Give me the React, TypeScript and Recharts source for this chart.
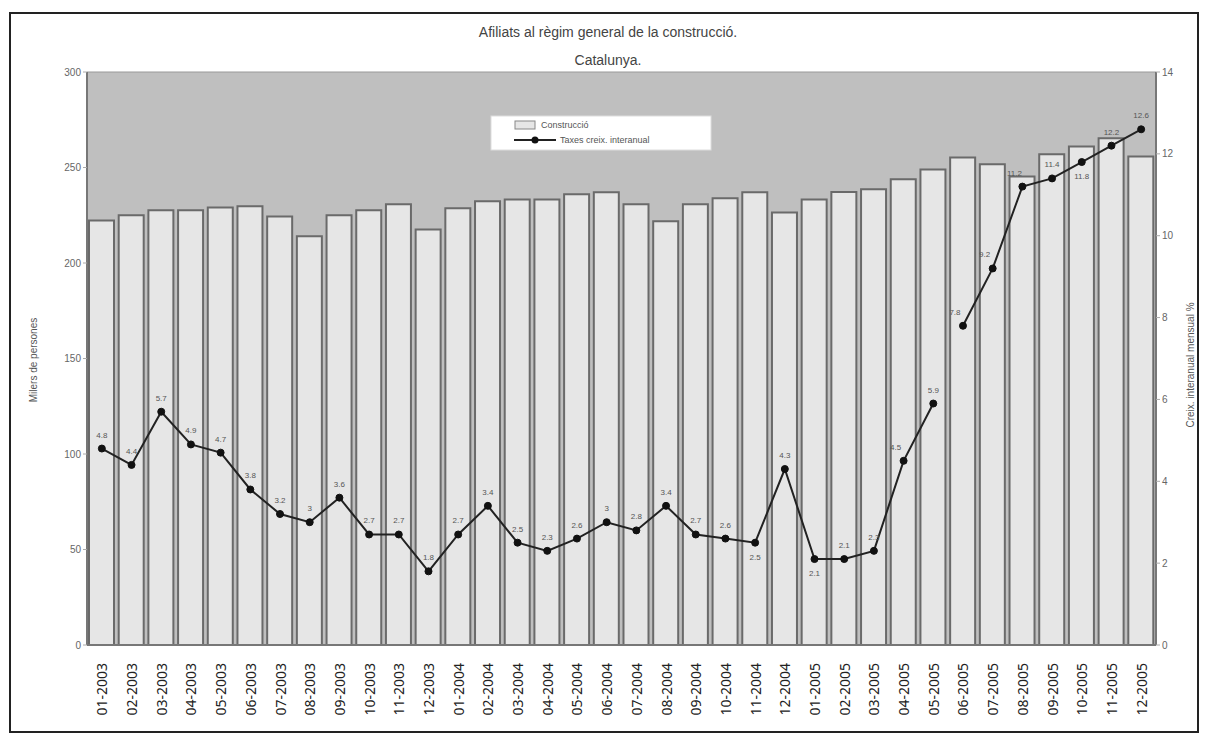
import React from 'react';
import {
  ComposedChart,
  Bar,
  Line,
  XAxis,
  YAxis,
  CartesianGrid,
  ReferenceLine,
} from 'recharts';

const mesos = [
  '01-2003', '02-2003', '03-2003', '04-2003', '05-2003', '06-2003',
  '07-2003', '08-2003', '09-2003', '10-2003', '11-2003', '12-2003',
  '01-2004', '02-2004', '03-2004', '04-2004', '05-2004', '06-2004',
  '07-2004', '08-2004', '09-2004', '10-2004', '11-2004', '12-2004',
  '01-2005', '02-2005', '03-2005', '04-2005', '05-2005', '06-2005',
  '07-2005', '08-2005', '09-2005', '10-2005', '11-2005', '12-2005',
];

const construccio = [
  222.3, 225, 227.6, 227.6, 229, 229.7,
  224.4, 214, 225, 227.6, 230.7, 217.6,
  228.6, 232.3, 233.3, 233.3, 236, 237,
  230.7, 221.8, 230.7, 233.9, 237, 226.5,
  233.3, 237.2, 238.6, 243.8, 249, 255.2,
  251.7, 245.3, 256.9, 261, 265.3, 255.7,
];

const taxes = [
  4.8, 4.4, 5.7, 4.9, 4.7, 3.8,
  3.2, 3, 3.6, 2.7, 2.7, 1.8,
  2.7, 3.4, 2.5, 2.3, 2.6, 3,
  2.8, 3.4, 2.7, 2.6, 2.5, 4.3,
  2.1, 2.1, 2.3, 4.5, 5.9, 7.8,
  9.2, 11.2, 11.4, 11.8, 12.2, 12.6,
];

// the line is interrupted between 05-2005 and 06-2005
const breakIndex = 29;

const leftTicks = [0, 50, 100, 150, 200, 250, 300];
const rightTicks = [0, 2, 4, 6, 8, 10, 12, 14];

const data = mesos.map((m, i) => ({
  mes: m,
  construccio: construccio[i],
  taxaA: i < breakIndex ? taxes[i] : null,
  taxaB: i >= breakIndex ? taxes[i] : null,
}));

const belowLabels = new Set([22, 24, 33]);
const leftShifted = new Set([27, 29, 30, 31]);

const FONT = '"Liberation Sans", Arial, sans-serif';

const renderLabel = (props: any) => {
  const { x, y, value, index } = props;
  if (value == null || x == null || y == null) return null;
  const below = belowLabels.has(index);
  const dx = leftShifted.has(index) ? -8 : 0;
  return (
    <text
      x={x + dx}
      y={below ? y + 17 : y - 11}
      textAnchor="middle"
      fontSize={8}
      fill="#555"
      fontFamily={FONT}
    >
      {String(value)}
    </text>
  );
};

const XTick = (props: any) => {
  const { x, y, payload } = props;
  return (
    <g transform={`translate(${x},${y})`}>
      <text
        transform="rotate(-90)"
        x={-10}
        y={0}
        textAnchor="end"
        dominantBaseline="central"
        fontSize={14}
        fill="#222"
        fontFamily='"Noto Sans", "Open Sans", sans-serif'
      >
        {payload.value}
      </text>
    </g>
  );
};

export default function App() {
  return (
    <div
      style={{
        position: 'absolute',
        left: 0,
        top: 0,
        width: 1207,
        height: 746,
        background: '#fff',
        overflow: 'hidden',
      }}
    >
      <div
        style={{
          position: 'absolute',
          left: 9,
          top: 12,
          width: 1186,
          height: 717,
          border: '2px solid #222',
        }}
      />
      <div style={{ position: 'absolute', left: 0, top: 0 }}>
        <ComposedChart
          width={1207}
          height={746}
          data={data}
          margin={{ top: 72, right: 0, bottom: 0, left: 0 }}
        >
          <CartesianGrid
            fill="#bfbfbf"
            stroke="none"
            horizontal={false}
            vertical={false}
          />
          <XAxis
            dataKey="mes"
            interval={0}
            height={101}
            tick={<XTick />}
            tickLine={false}
            axisLine={{ stroke: '#777', strokeWidth: 2 }}
          />
          <YAxis
            yAxisId="left"
            domain={[0, 300]}
            ticks={leftTicks}
            width={87}
            tickSize={4}
            tick={{ fontSize: 10, fill: '#666', fontFamily: FONT }}
            tickLine={{ stroke: '#aaa' }}
            axisLine={{ stroke: '#777', strokeWidth: 2 }}
          />
          <YAxis
            yAxisId="right"
            orientation="right"
            domain={[0, 14]}
            ticks={rightTicks}
            width={51}
            tickSize={4}
            tick={{ fontSize: 10, fill: '#666', fontFamily: FONT }}
            tickLine={{ stroke: '#aaa' }}
            axisLine={{ stroke: '#777', strokeWidth: 2 }}
          />
          <ReferenceLine yAxisId="left" y={300} stroke="#999" strokeWidth={1} />
          <Bar
            yAxisId="left"
            dataKey="construccio"
            fill="#e6e6e6"
            stroke="#6a6a6a"
            strokeWidth={2}
            barSize={25}
            isAnimationActive={false}
          />
          <Line
            yAxisId="right"
            dataKey="taxaA"
            stroke="#222"
            strokeWidth={2}
            dot={{ r: 3.5, fill: '#111', stroke: '#111', strokeWidth: 1 }}
            connectNulls={false}
            label={renderLabel}
            isAnimationActive={false}
          />
          <Line
            yAxisId="right"
            dataKey="taxaB"
            stroke="#222"
            strokeWidth={2}
            dot={{ r: 3.5, fill: '#111', stroke: '#111', strokeWidth: 1 }}
            connectNulls={false}
            label={renderLabel}
            isAnimationActive={false}
          />
        </ComposedChart>
      </div>
      <svg
        width={1207}
        height={746}
        style={{ position: 'absolute', left: 0, top: 0, pointerEvents: 'none' }}
      >
        <text x={608} y={37} textAnchor="middle" fontSize={14} fill="#444" fontFamily={FONT}>
          Afiliats al règim general de la construcció.
        </text>
        <text x={608} y={65} textAnchor="middle" fontSize={14} fill="#444" fontFamily={FONT}>
          Catalunya.
        </text>
        <text
          transform="translate(37,360) rotate(-90)"
          textAnchor="middle"
          fontSize={10}
          fill="#555"
          fontFamily={FONT}
        >
          Milers de persones
        </text>
        <text
          transform="translate(1194,365) rotate(-90)"
          textAnchor="middle"
          fontSize={10}
          fill="#555"
          fontFamily={FONT}
        >
          Creix. interanual mensual %
        </text>
        <rect x={491} y={116} width={220} height={34} fill="#fff" stroke="#ddd" />
        <rect x={515} y={121} width={20} height={8} fill="#e6e6e6" stroke="#888" strokeWidth={1} />
        <text x={541} y={128} fontSize={9} fill="#555" fontFamily={FONT}>
          Construcció
        </text>
        <line x1={514} y1={140} x2={556} y2={140} stroke="#222" strokeWidth={2} />
        <circle cx={535} cy={140} r={3.5} fill="#111" />
        <text x={560} y={143} fontSize={9} fill="#555" fontFamily={FONT}>
          Taxes creix. interanual
        </text>
      </svg>
    </div>
  );
}
